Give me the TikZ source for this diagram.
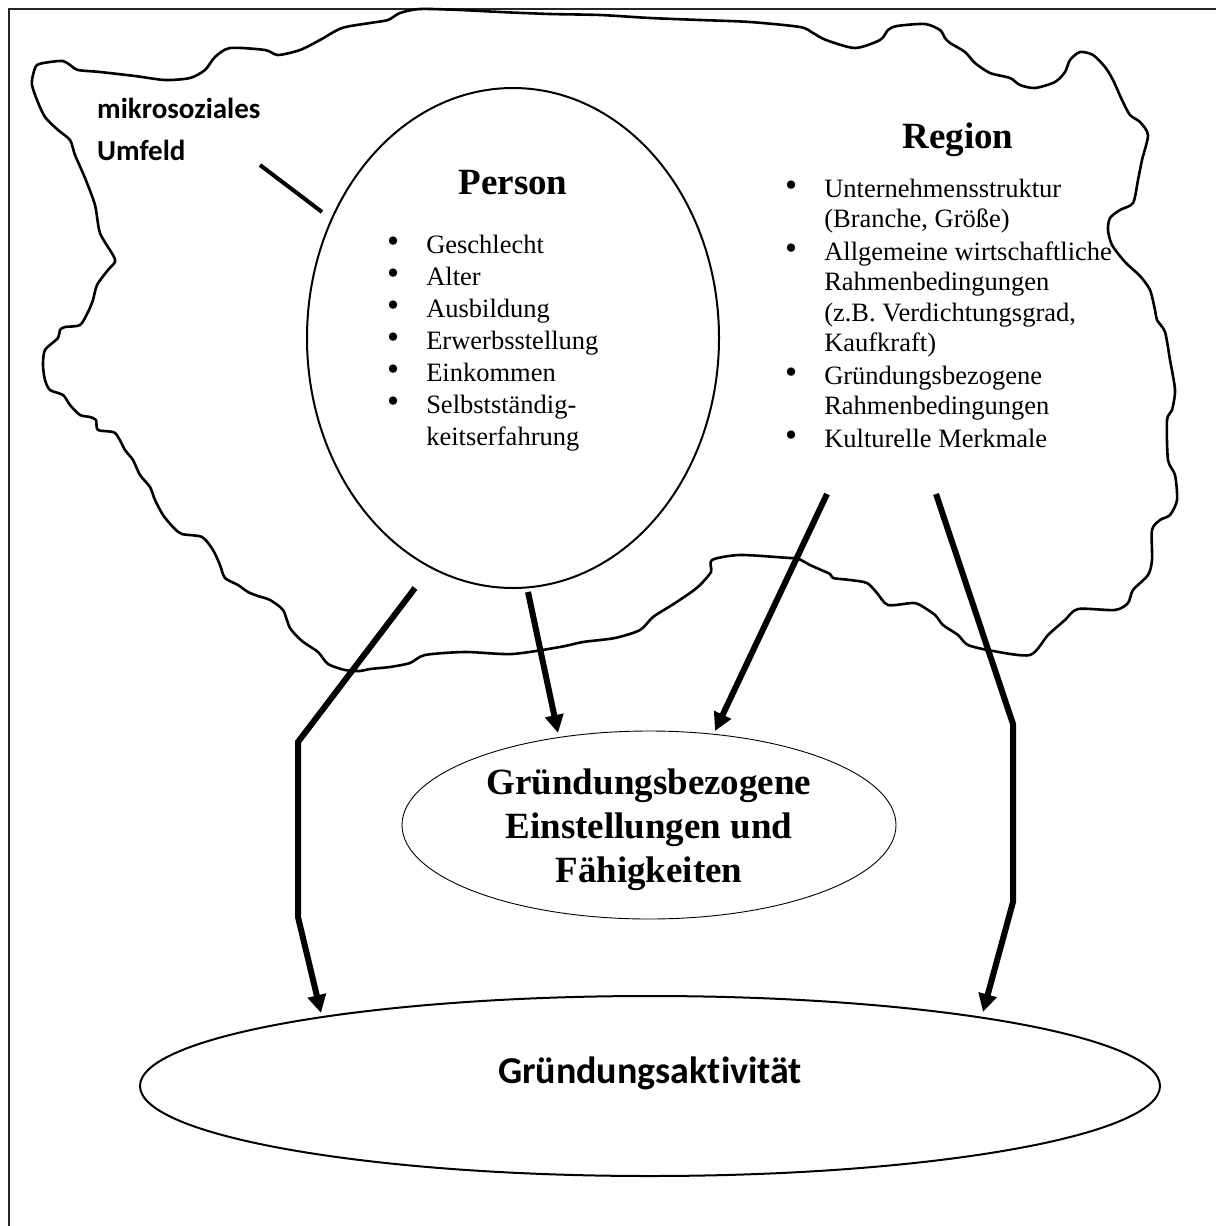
\documentclass[tikz,border=0pt]{standalone}
\usepackage{fontspec}
\usepackage{graphicx}
\setmainfont{Liberation Serif}
\newfontfamily\calib[Ligatures={NoCommon}]{Carlito}
\usetikzlibrary{arrows.meta,shapes.geometric}
\newcommand\bul{\raisebox{0.05ex}{\scalebox{1.3}{\textbullet}}}
\begin{document}
\begin{tikzpicture}[x=1pt,y=-1pt,
  frameline/.style={line width=2pt,black!85},
  cloudline/.style={line width=2.6pt,line join=round},
  bigarrow/.style={line width=6pt,-{Triangle[length=18pt,width=18pt]}},
  titlefont/.style={font=\fontsize{37}{44}\selectfont\bfseries},
  listfont/.style={font=\fontsize{26.5}{32}\selectfont},
  every node/.style={inner sep=0pt}]
\useasboundingbox (0,0) rectangle (1216,1226);
\fill[white] (0,0) rectangle (1216,1226);
% frame
\coordinate (fbl) at (9,1226);
\coordinate (ftl) at (9,9);
\coordinate (ftr) at (1216,9);
\draw[frameline] (fbl) -- (ftl) -- (ftr);
% cloud
\draw[cloudline] plot[smooth cycle,tension=0.45] coordinates {
(37,65) (50,62) (63,61) (70,65) (78,70) (100,72) (135,76) (165,80) (190,78) (205,70) (215,57) (230,48) (265,50) (278,55) (300,50) (320,40) (342,28) (370,23) (388,20) (400,13)
(420,9) (460,10) (500,12) (550,14) (600,15) (650,18) (700,20) (750,22) (800,27)
(813,33) (826,40) (855,48) (880,40) (888,30) (897,26) (925,24) (940,30) (945,38) (950,43) (965,52) (975,63) (990,73) (1010,78) (1020,85) (1035,88) (1055,82) (1065,72) (1070,60) (1080,52) (1093,55) (1105,67) (1113,80) (1122,100) (1130,115) (1140,122) (1148,135) (1142,160) (1138,180) (1133,203) (1120,210) (1110,218) (1108,230) (1112,245) (1125,262) (1140,276) (1150,290) (1155,310) (1157,320) (1165,332) (1170,360) (1175,390) (1172,410) (1167,420) (1168,460) (1175,475) (1177,500) (1170,515) (1160,520) (1152,530) (1152,560) (1148,575) (1133,590) (1128,603) (1115,610) (1078,609) (1065,620) (1048,635) (1030,655)
(993,651) (968,645) (958,635) (943,625) (935,615) (920,605) (912,603) (888,605) (877,593) (867,583) (850,580) (833,578) (830,574) (810,565) (797,558) (790,558) (740,555) (712,560) (711,572) (700,585) (690,593) (672,605) (653,617) (640,630) (615,638) (583,642) (560,647) (512,654) (465,652) (425,655) (410,663) (390,667) (370,669) (360,671) (345,670) (328,664) (318,652) (302,641) (290,628) (283,610) (270,600) (258,596) (248,592) (238,585) (225,578) (220,565) (213,550) (202,537) (182,534) (173,527) (163,515) (155,500) (150,487) (140,475) (133,460) (125,450) (115,433) (98,430) (96,420) (90,417) (80,415) (70,405) (63,395) (50,390) (45,380) (43,365) (45,350) (58,338) (60,330) (65,327) (80,325) (88,312) (93,300) (97,285) (108,270) (115,262) (113,255) (100,233) (95,205) (85,178) (75,155) (70,140) (58,130) (45,117) (37,100) (32,85) (33,75)};
% person ellipse
\node[draw,ellipse,line width=2pt,minimum width=412pt,minimum height=500pt] (person) at (513,338) {};
\node[titlefont,anchor=base] (persontitle) at (513,194) {Person};
\node[listfont,anchor=base west] (personlist) at (387,253) {\begin{tabular}[t]{@{}l@{\hspace{27pt}}l@{}}
\bul & Geschlecht\\
\bul & Alter\\
\bul & Ausbildung\\
\bul & Erwerbsstellung\\
\bul & Einkommen\\
\bul & Selbstständig-\\
 & keitserfahrung
\end{tabular}};
% region
\node[titlefont,anchor=base] (regiontitle) at (958,148) {Region};
\node[font=\fontsize{26.5}{30.5}\selectfont,anchor=base west] (regionlist) at (785,197) {\begin{tabular}[t]{@{}l@{\hspace{27pt}}l@{}}
\bul & Unternehmensstruktur\\
 & (Branche, Größe)\\[2pt]
\bul & Allgemeine wirtschaftliche\\
 & Rahmenbedingungen\\
 & (z.B. Verdichtungsgrad,\\
 & Kaufkraft)\\[2pt]
\bul & Gründungsbezogene\\
 & Rahmenbedingungen\\[2pt]
\bul & Kulturelle Merkmale
\end{tabular}};
% mikrosoziales Umfeld
\node[font=\fontsize{29}{42}\selectfont\calib\bfseries,anchor=base west] (umfeld) at (97,118) {\begin{tabular}[t]{@{}l@{}}mikrosoziales\\Umfeld\end{tabular}};
\coordinate (umfeldA) at (260,165);
\coordinate (umfeldB) at (322,212);
\draw[line width=4pt] (umfeldA) -- (umfeldB);
% inner ellipse
\node[draw,ellipse,line width=0.9pt,minimum width=494pt,minimum height=188pt] (einst) at (649,825) {};
\node[titlefont,anchor=base] (einsttext) at (649,794) {\begin{tabular}[t]{@{}c@{}}Gründungsbezogene\\Einstellungen und\\Fähigkeiten\end{tabular}};
% bottom ellipse
\node[draw,ellipse,line width=2pt,minimum width=1020pt,minimum height=180pt] (akt) at (650,1086) {};
\node[font=\fontsize{38}{44}\selectfont\calib\bfseries,anchor=base] (akttext) at (650,1083) {Gründungsaktivität};
% arrows
\coordinate (a1s) at (415,588);
\coordinate (a1b) at (298,742);
\coordinate (a1c) at (298,917);
\coordinate (a1e) at (321,1013);
\draw[bigarrow] (a1s) -- (a1b) -- (a1c) -- (a1e);
\coordinate (a2s) at (528,592);
\coordinate (a2e) at (558,733);
\draw[bigarrow] (a2s) -- (a2e);
\coordinate (a3s) at (827,494);
\coordinate (a3e) at (715,731);
\draw[bigarrow] (a3s) -- (a3e);
\coordinate (a4s) at (936,494);
\coordinate (a4b) at (1013,724);
\coordinate (a4c) at (1013,902);
\coordinate (a4e) at (983,1012);
\draw[bigarrow] (a4s) -- (a4b) -- (a4c) -- (a4e);
\end{tikzpicture}
\end{document}
